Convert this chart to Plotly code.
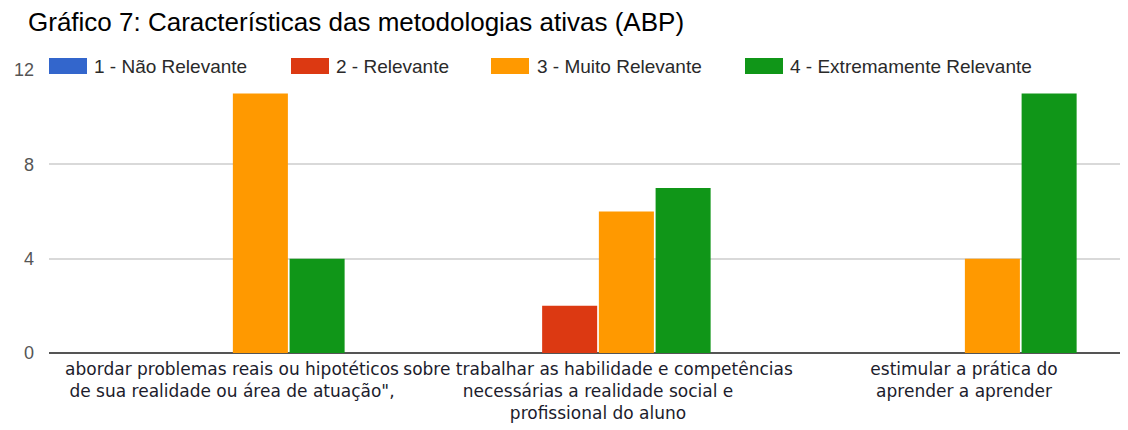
import plotly.graph_objects as go


categories = [
	'abordar problemas reais ou hipotéticos<br>de sua realidade ou área de atuação",',
	'sobre trabalhar as habilidade e competências<br>necessárias a realidade social e<br>profissional do aluno',
	'estimular a prática do<br>aprender a aprender',
]
series_names = ['1 - Não Relevante', '2 - Relevante', '3 - Muito Relevante', '4 - Extremamente Relevante']
nao_relevante       = [0, 0, 0]
relevante           = [0, 2, 0]
muito_relevante     = [11, 6, 4]
extremamente_relev  = [4, 7, 11]
y_ticks = [0, 4, 8, 12]

colors = ['#3366CC', '#DC3912', '#FF9900', '#109618']

# the page body adds an 8px offset, so screen coords = figure coords + 8
OFF = 8
W, H = 1128, 430
ML, MR, MT, MB = 49 - OFF, OFF, 70 - OFF, H - (353 - OFF)


def px_x(p):
	return (p - OFF - ML) / (W - ML - MR)


def px_y(p):
	return (H - MB - (p - OFF)) / (H - MT - MB)


def main():

	values = [nao_relevante, relevante, muito_relevante, extremamente_relev]

	fig = go.Figure()
	for i in range(len(values)):
		fig.add_trace(go.Bar(x = categories, y = values[i], name = series_names[i],
			marker = dict(color = colors[i], line = dict(width = 0)), showlegend = False))

	# legend drawn by hand: wide swatches sitting on the top grid line
	swatch_left = [49, 291, 491, 745]
	text_left   = [92, 334, 535, 788]
	for i in range(len(series_names)):
		fig.add_shape(type = 'rect', xref = 'paper', yref = 'paper', layer = 'above',
			x0 = px_x(swatch_left[i]), x1 = px_x(swatch_left[i] + 38),
			y0 = px_y(74), y1 = px_y(58),
			fillcolor = colors[i], line = dict(width = 0))
		fig.add_annotation(xref = 'paper', yref = 'paper', x = px_x(text_left[i]), y = px_y(67),
			xanchor = 'left', yanchor = 'middle', text = series_names[i], showarrow = False,
			bgcolor = 'white', borderpad = 1,
			font = dict(family = 'Liberation Sans, Arial', size = 19, color = '#2a2a2a'))

	fig.update_layout(
		width = W,
		height = H,
		margin = dict(l = ML, r = MR, t = MT, b = MB, autoexpand = False),
		barmode = 'group',
		bargap = 0.38,
		bargroupgap = 0.03,
		plot_bgcolor = 'white',
		paper_bgcolor = 'white',
		font = dict(family = 'Liberation Sans, Arial', color = '#444'),
		title = dict(text = 'Gráfico 7: Características das metodologias ativas (ABP)',
			xref = 'container', yref = 'container', x = 20 / W, y = 1 - 14 / H,
			xanchor = 'left', yanchor = 'middle',
			font = dict(family = 'Liberation Sans, Arial', size = 26, color = 'black')),
	)
	fig.update_xaxes(
		type = 'category',
		range = [-0.5, 2.448],
		automargin = False,
		tickangle = 0,
		showgrid = False,
		showline = False,
		ticks = '',
		ticklabelstandoff = 4,
		tickfont = dict(family = 'DejaVu Sans', size = 17, color = '#1c1c2c'),
	)
	fig.update_yaxes(
		range = [0, 12],
		automargin = False,
		tickvals = y_ticks,
		showgrid = True,
		gridcolor = '#d9d9d9',
		gridwidth = 1.5,
		zeroline = True,
		zerolinecolor = '#555',
		zerolinewidth = 2,
		showline = False,
		ticks = '',
		ticklabelstandoff = 14,
		tickfont = dict(family = 'Liberation Sans, Arial', size = 18, color = '#555'),
	)

	fig.write_html('out.html')


if __name__ == '__main__':
	main()
